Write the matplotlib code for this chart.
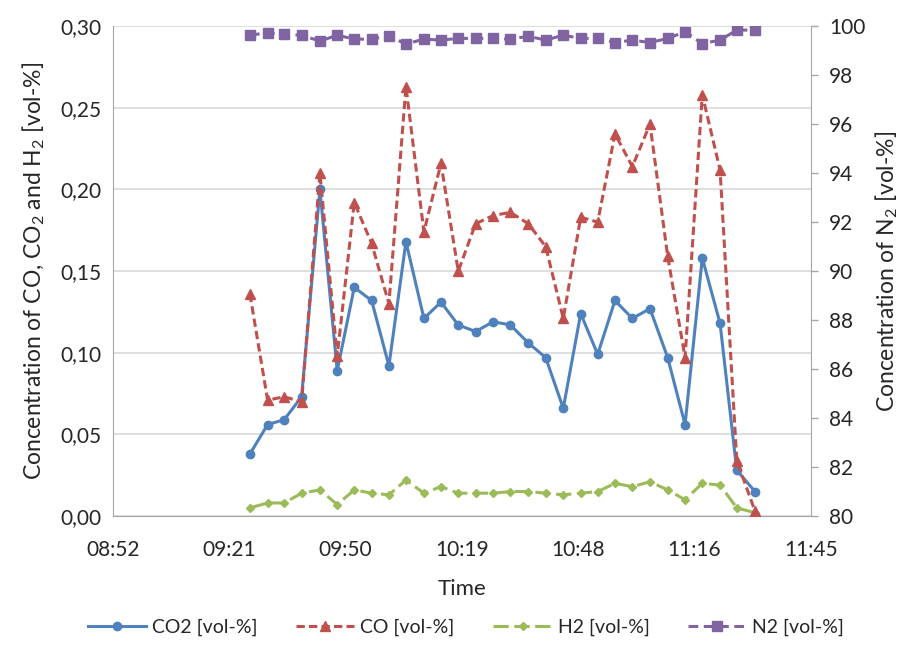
import matplotlib
matplotlib.use("Agg")
import matplotlib.pyplot as plt
from matplotlib.ticker import FixedLocator, FixedFormatter

plt.rcParams['font.family'] = ['Lato', 'DejaVu Sans']
plt.rcParams['mathtext.default'] = 'regular'
plt.rcParams['lines.scale_dashes'] = False

# ---- data ----
times = ["09:26:44", "09:31:07", "09:35:13", "09:39:32", "09:44:04", "09:48:21",
         "09:52:34", "09:56:52", "10:01:09", "10:05:22", "10:09:49", "10:14:02",
         "10:18:19", "10:22:37", "10:26:59", "10:31:14", "10:35:39", "10:39:58",
         "10:44:19", "10:48:38", "10:52:50", "10:57:07", "11:01:25", "11:05:47",
         "11:10:10", "11:14:28", "11:18:44", "11:23:08", "11:27:16", "11:31:47"]

co2 = [0.038, 0.056, 0.059, 0.073, 0.200, 0.089, 0.140, 0.132, 0.092, 0.168,
       0.121, 0.131, 0.117, 0.113, 0.119, 0.117, 0.106, 0.097, 0.066, 0.124,
       0.099, 0.132, 0.121, 0.127, 0.097, 0.056, 0.158, 0.118, 0.028, 0.015]

co = [0.136, 0.071, 0.073, 0.070, 0.210, 0.098, 0.192, 0.167, 0.130, 0.263,
      0.174, 0.216, 0.150, 0.179, 0.184, 0.186, 0.179, 0.165, 0.121, 0.183,
      0.180, 0.234, 0.214, 0.240, 0.159, 0.097, 0.258, 0.212, 0.034, 0.003]

h2 = [0.005, 0.008, 0.008, 0.014, 0.016, 0.007, 0.016, 0.014, 0.013, 0.022,
      0.014, 0.018, 0.014, 0.014, 0.014, 0.015, 0.015, 0.014, 0.013, 0.014,
      0.015, 0.020, 0.018, 0.021, 0.016, 0.010, 0.020, 0.019, 0.005, 0.002]

n2 = [99.63, 99.73, 99.67, 99.63, 99.39, 99.63, 99.47, 99.47, 99.60, 99.27,
      99.47, 99.43, 99.50, 99.50, 99.50, 99.47, 99.59, 99.43, 99.63, 99.50,
      99.50, 99.33, 99.43, 99.33, 99.50, 99.77, 99.29, 99.43, 99.84, 99.84]

x_tick_values = [0.37, 0.39, 0.41, 0.43, 0.45, 0.47, 0.49]   # fraction of day
x_tick_labels = ["08:52", "09:21", "09:50", "10:19", "10:48", "11:16", "11:45"]
left_ticks = [0.00, 0.05, 0.10, 0.15, 0.20, 0.25, 0.30]
left_tick_labels = ["0,00", "0,05", "0,10", "0,15", "0,20", "0,25", "0,30"]
right_ticks = [80, 82, 84, 86, 88, 90, 92, 94, 96, 98, 100]

series_names = ["CO2 [vol-%]", "CO [vol-%]", "H2 [vol-%]", "N2 [vol-%]"]


def to_day(s):
    h, m, sec = (int(v) for v in s.split(":"))
    return (h * 3600 + m * 60 + sec) / 86400.0


x = [to_day(t) for t in times]

# ---- colours ----
c_blue = "#4F81BD"
c_red = "#C0504D"
c_green = "#9BBB59"
c_purple = "#8064A2"
grid_c = "#D9D9D9"
axis_c = "#A6A6A6"
text_c = "#262626"

fig = plt.figure(figsize=(9.10, 6.62), dpi=100)
ax = fig.add_axes([0.124, 0.2205, 0.767, 0.740])

l1, = ax.plot(x, co2, color=c_blue, lw=2.2, marker="o", ms=6, mfc=c_blue,
              mec=c_blue, label=series_names[0], zorder=3)
l2, = ax.plot(x, co, color=c_red, lw=2.2, ls=(0, (6, 3)), marker="^", ms=7.5,
              mfc=c_red, mec=c_red, label=series_names[1], zorder=4)
l3, = ax.plot(x, h2, color=c_green, lw=2.2, ls=(0, (11, 4)), marker="D", ms=4.5,
              mfc=c_green, mec=c_green, label=series_names[2], zorder=3)

ax.set_xlim(0.37, 0.49)
ax.set_ylim(0, 0.30)
ax.xaxis.set_major_locator(FixedLocator(x_tick_values))
ax.xaxis.set_major_formatter(FixedFormatter(x_tick_labels))
ax.yaxis.set_major_locator(FixedLocator(left_ticks))
ax.yaxis.set_major_formatter(FixedFormatter(left_tick_labels))
ax.grid(axis="y", color=grid_c, lw=1.2)
ax.set_axisbelow(True)
ax.tick_params(axis="both", length=0, labelsize=15, colors=text_c, pad=8)
ax.tick_params(axis="x", pad=17)
for s in ["top", "right"]:
    ax.spines[s].set_visible(False)
ax.spines["left"].set_color(axis_c)
ax.spines["bottom"].set_color(axis_c)
ax.set_xlabel("Time", fontsize=16, color=text_c, labelpad=14)
ax.set_ylabel("Concentration of CO, CO$_2$ and H$_2$ [vol-%]", fontsize=16.5,
              color=text_c, labelpad=10)

ax2 = ax.twinx()
l4, = ax2.plot(x, n2, color=c_purple, lw=2.2, ls=(0, (7, 4)), marker="s", ms=6.5,
               mfc=c_purple, mec=c_purple, label=series_names[3])
ax2.set_ylim(80, 100)
ax2.yaxis.set_major_locator(FixedLocator(right_ticks))
ax2.tick_params(axis="y", length=5, width=1, color=axis_c, labelsize=15,
                labelcolor=text_c, pad=8)
for s in ["top", "left", "bottom"]:
    ax2.spines[s].set_visible(False)
ax2.spines["right"].set_color(axis_c)
ax2.set_ylabel("Concentration of N$_2$ [vol-%]", fontsize=16.5, color=text_c,
               labelpad=6)

leg = fig.legend(handles=[l1, l2, l3, l4], loc="center", ncol=4,
                 bbox_to_anchor=(0.512, 0.052), frameon=False, fontsize=14,
                 handlelength=3.0, columnspacing=2.0, handletextpad=0.3)
for t in leg.get_texts():
    t.set_color(text_c)

fig.savefig("out.png", dpi=100)
